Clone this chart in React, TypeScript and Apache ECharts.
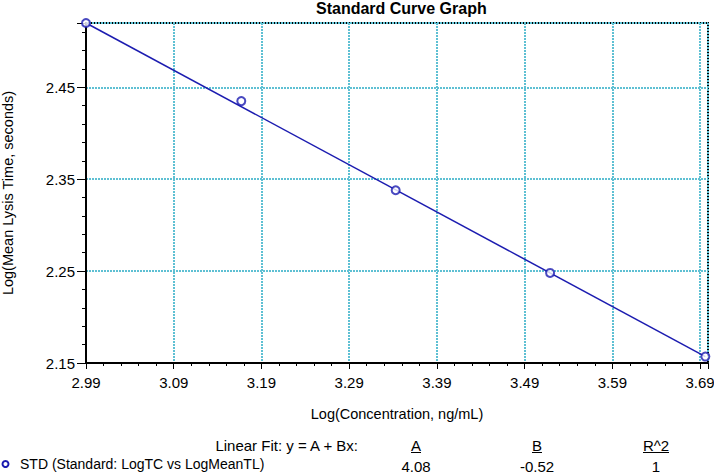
import React, { useEffect, useRef } from "react";
import * as echarts from "echarts";

const seriesName = "STD (Standard: LogTC vs LogMeanTL)";
const logConc = [2.99, 3.167, 3.343, 3.519, 3.696];
const logTime = [2.52, 2.435, 2.338, 2.248, 2.157];
const fitX = [2.99, 3.696];
const fitY = [2.52, 2.157];
const fitHeaders = ["A", "B", "R^2"];
const fitValues = ["4.08", "-0.52", "1"];
const xTicks = [2.99, 3.09, 3.19, 3.29, 3.39, 3.49, 3.59, 3.69];
const yTicks = [2.15, 2.25, 2.35, 2.45];

const FONT = "'Liberation Sans', Arial, sans-serif";
const BLUE = "#1c1cb0";

export default function App() {
  const ref = useRef<HTMLDivElement>(null);
  useEffect(() => {
    document.body.style.margin = "0";
    const chart = echarts.init(ref.current!, null, { renderer: "svg" });
    const colX = [416, 537, 656];
    const graphics: any[] = [
      {
        type: "text",
        x: 358,
        y: 445,
        style: { text: "Linear Fit: y = A + Bx:", font: `15px ${FONT}`, fill: "#000", textAlign: "right", textVerticalAlign: "middle" },
      },
      {
        type: "circle",
        shape: { cx: 5.5, cy: 464, r: 3 },
        style: { fill: "#fff", stroke: BLUE, lineWidth: 2 },
      },
      {
        type: "text",
        x: 20,
        y: 464,
        style: { text: seriesName, font: `14px ${FONT}`, fill: "#000", textAlign: "left", textVerticalAlign: "middle" },
      },
    ];
    fitHeaders.forEach((h, i) => {
      graphics.push({
        type: "text",
        x: colX[i],
        y: 445,
        style: { text: h, font: `15px ${FONT}`, fill: "#000", textAlign: "center", textVerticalAlign: "middle" },
      });
      const w = h.length * 8 + 2;
      graphics.push({
        type: "line",
        shape: { x1: colX[i] - w / 2, y1: 452.5, x2: colX[i] + w / 2, y2: 452.5 },
        style: { stroke: "#000", lineWidth: 1 },
      });
      graphics.push({
        type: "text",
        x: colX[i],
        y: 466,
        style: { text: fitValues[i], font: `15px ${FONT}`, fill: "#000", textAlign: "center", textVerticalAlign: "middle" },
      });
    });

    chart.setOption({
      animation: false,
      textStyle: { fontFamily: FONT },
      title: {
        text: "Standard Curve Graph",
        left: 316,
        top: 0,
        padding: 0,
        textStyle: { fontSize: 16, fontWeight: "bold", color: "#000", fontFamily: FONT },
      },
      grid: {
        left: 86,
        right: 6,
        top: 23,
        bottom: 113,
        show: true,
        containLabel: false,
        outerBoundsMode: "none",
        borderColor: "#000",
        borderWidth: 2,
        backgroundColor: "#fff",
      },
      xAxis: {
        type: "value",
        min: xTicks[0],
        max: 3.699,
        interval: 0.1,
        name: "Log(Concentration, ng/mL)",
        nameLocation: "middle",
        nameGap: 43,
        nameTextStyle: { fontSize: 14.5, color: "#000", fontFamily: FONT },
        axisLine: { show: true, lineStyle: { color: "#000", width: 2 } },
        axisTick: { show: true, length: 6, lineStyle: { color: "#000", width: 1 } },
        minorTick: { show: true, splitNumber: 5, length: 3, lineStyle: { color: "#000", width: 1 } },
        axisLabel: {
          fontSize: 15,
          color: "#000",
          margin: 12,
          showMaxLabel: false,
          formatter: (v: number) => v.toFixed(2),
        },
        splitLine: { show: true, lineStyle: { color: "#5ec0d3", width: 2, type: [2, 1] } },
      },
      yAxis: {
        type: "value",
        min: yTicks[0],
        max: 2.52,
        interval: 0.1,
        name: "Log(Mean Lysis Time, seconds)",
        nameLocation: "middle",
        nameRotate: 90,
        nameGap: 71,
        nameTextStyle: { fontSize: 14.5, color: "#000", fontFamily: FONT },
        axisLine: { show: true, lineStyle: { color: "#000", width: 2 } },
        axisTick: { show: true, length: 9, lineStyle: { color: "#000", width: 1 } },
        minorTick: { show: true, splitNumber: 5, length: 4, lineStyle: { color: "#000", width: 1 } },
        axisLabel: {
          fontSize: 15,
          color: "#000",
          margin: 11,
          showMaxLabel: false,
          formatter: (v: number) => v.toFixed(2),
        },
        splitLine: { show: true, lineStyle: { color: "#5ec0d3", width: 2, type: [2, 1] } },
      },
      series: [
        {
          name: "fit",
          type: "line",
          data: fitX.map((x, i) => [x, fitY[i]]),
          symbol: "none",
          lineStyle: { color: BLUE, width: 1.5 },
          z: 3,
        },
        {
          name: seriesName,
          type: "scatter",
          data: logConc.map((x, i) => [x, logTime[i]]),
          symbol: "emptyCircle",
          symbolSize: 8,
          clip: false,
          itemStyle: { color: BLUE, borderColor: BLUE, borderWidth: 1.5 },
          z: 4,
        },
      ],
      graphic: graphics,
    });
    return () => chart.dispose();
  }, []);
  return <div ref={ref} style={{ width: 714, height: 476 }} />;
}
